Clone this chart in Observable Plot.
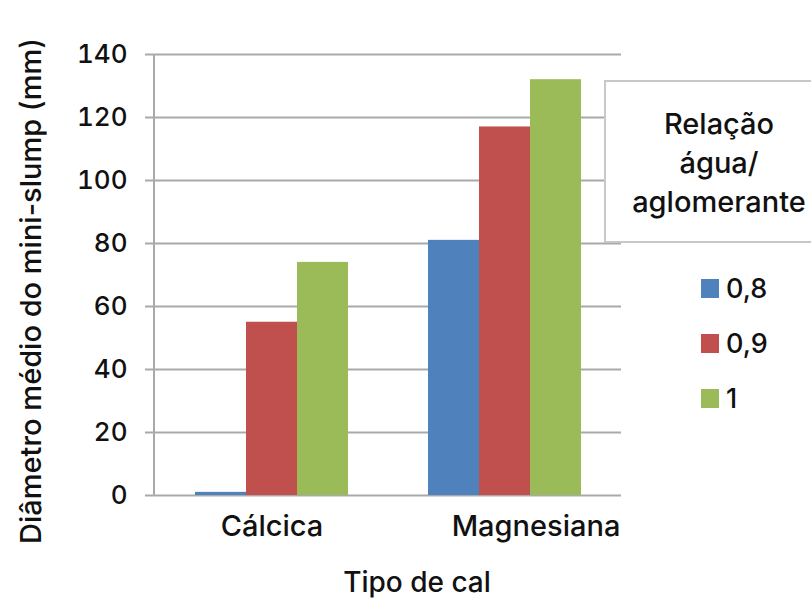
<!DOCTYPE html>
<html>
<head>
<meta charset="utf-8">
<script src="https://cdn.jsdelivr.net/npm/d3@7"></script>
<script src="https://cdn.jsdelivr.net/npm/@observablehq/plot@0.6"></script>
<style>
  html, body { margin: 0; padding: 0; background: #fff; }
  #wrap { position: relative; width: 811px; height: 598px; overflow: hidden; font-family: Inter, Roboto, sans-serif; font-weight: 500; color: #111; }
  #wrap svg text { font-weight: 500; }
  #legend { position: absolute; left: 604px; top: 80px; width: 220px; height: 163px; background: #fff;
            border: 2px solid #c8c8c8; box-sizing: border-box; }
  #legend .title { position: absolute; left: 0; width: 226px; top: 22px; text-align: center; font-size: 29px;
                   line-height: 39px; }
  .item { position: absolute; left: 701px; font-size: 27px; display: flex; align-items: center; height: 30px; }
  .item .sw { width: 18px; height: 19px; margin-right: 7px; }
  .ytitle { position: absolute; left: 30px; top: 291px; transform: translate(-50%, -50%) rotate(-90deg);
            white-space: nowrap; font-size: 29px; }
  .xtitle { position: absolute; left: 417px; top: 582px; transform: translate(-50%, -50%);
            white-space: nowrap; font-size: 28px; }
</style>
</head>
<body>
<div id="wrap"></div>
<script>
const groups = ["Cálcica", "Magnesiana"];
const series = ["0,8", "0,9", "1"];
const colors = ["#4F81BD", "#C0504D", "#9BBB59"];
const valuesCalcica = [1, 55, 74];
const valuesMagnesiana = [81, 117, 132];
const yTicks = [0, 20, 40, 60, 80, 100, 120, 140];
const legendTitle = ["Relação", "água/", "aglomerante"];
const yTitle = "Diâmetro médio do mini-slump (mm)";
const xTitle = "Tipo de cal";

const data = [];
series.forEach((s, i) => {
  data.push({tipo: groups[0], rel: s, valor: valuesCalcica[i]});
  data.push({tipo: groups[1], rel: s, valor: valuesMagnesiana[i]});
});

const grid = "#a9a9a9";
const font = "Inter, Roboto, sans-serif";
const plot = Plot.plot({
  width: 811,
  height: 598,
  marginLeft: 154,
  marginRight: 190,
  marginTop: 54,
  marginBottom: 103,
  style: {fontFamily: font, color: "#111", background: "transparent"},
  fx: {domain: groups, padding: 0},
  x: {domain: series, paddingInner: 0, paddingOuter: 0.75},
  y: {domain: [0, 140]},
  color: {domain: series, range: colors},
  marks: [
    Plot.ruleY(yTicks, {stroke: grid, strokeWidth: 2}),
    Plot.barY(data, {fx: "tipo", x: "rel", y: "valor", fill: "rel", inset: 0}),
    Plot.axisY(yTicks, {tickSize: 10, tickPadding: 18, stroke: grid, strokeWidth: 2, fontSize: 26, label: null}),
    Plot.axisX({ticks: [], label: null}),
    Plot.axisFx({ticks: [groups[0]], anchor: "bottom", tickSize: 0, tickPadding: 20, fontSize: 29, label: null}),
    Plot.axisFx({ticks: [groups[1]], anchor: "bottom", tickSize: 0, tickPadding: 20, fontSize: 29, label: null, dx: 31})
  ]
});

const wrap = document.getElementById("wrap");
wrap.appendChild(plot);

// left axis line, drawn from the y scale
const ys = plot.scale("y");
d3.select(plot).append("line")
  .attr("x1", 154).attr("x2", 154)
  .attr("y1", ys.range[0]).attr("y2", ys.range[1])
  .attr("stroke", grid).attr("stroke-width", 2);

// axis titles
const yt = document.createElement("div");
yt.className = "ytitle"; yt.textContent = yTitle; wrap.appendChild(yt);
const xt = document.createElement("div");
xt.className = "xtitle"; xt.textContent = xTitle; wrap.appendChild(xt);

// legend
const lg = document.createElement("div");
lg.id = "legend";
const t = document.createElement("div");
t.className = "title";
t.innerHTML = legendTitle.join("<br>");
lg.appendChild(t);
wrap.appendChild(lg);
series.forEach((s, i) => {
  const it = document.createElement("div");
  it.className = "item";
  it.style.top = (273 + i * 55) + "px";
  it.innerHTML = `<span class="sw" style="background:${colors[i]}"></span><span>${s}</span>`;
  wrap.appendChild(it);
});
</script>
</body>
</html>
